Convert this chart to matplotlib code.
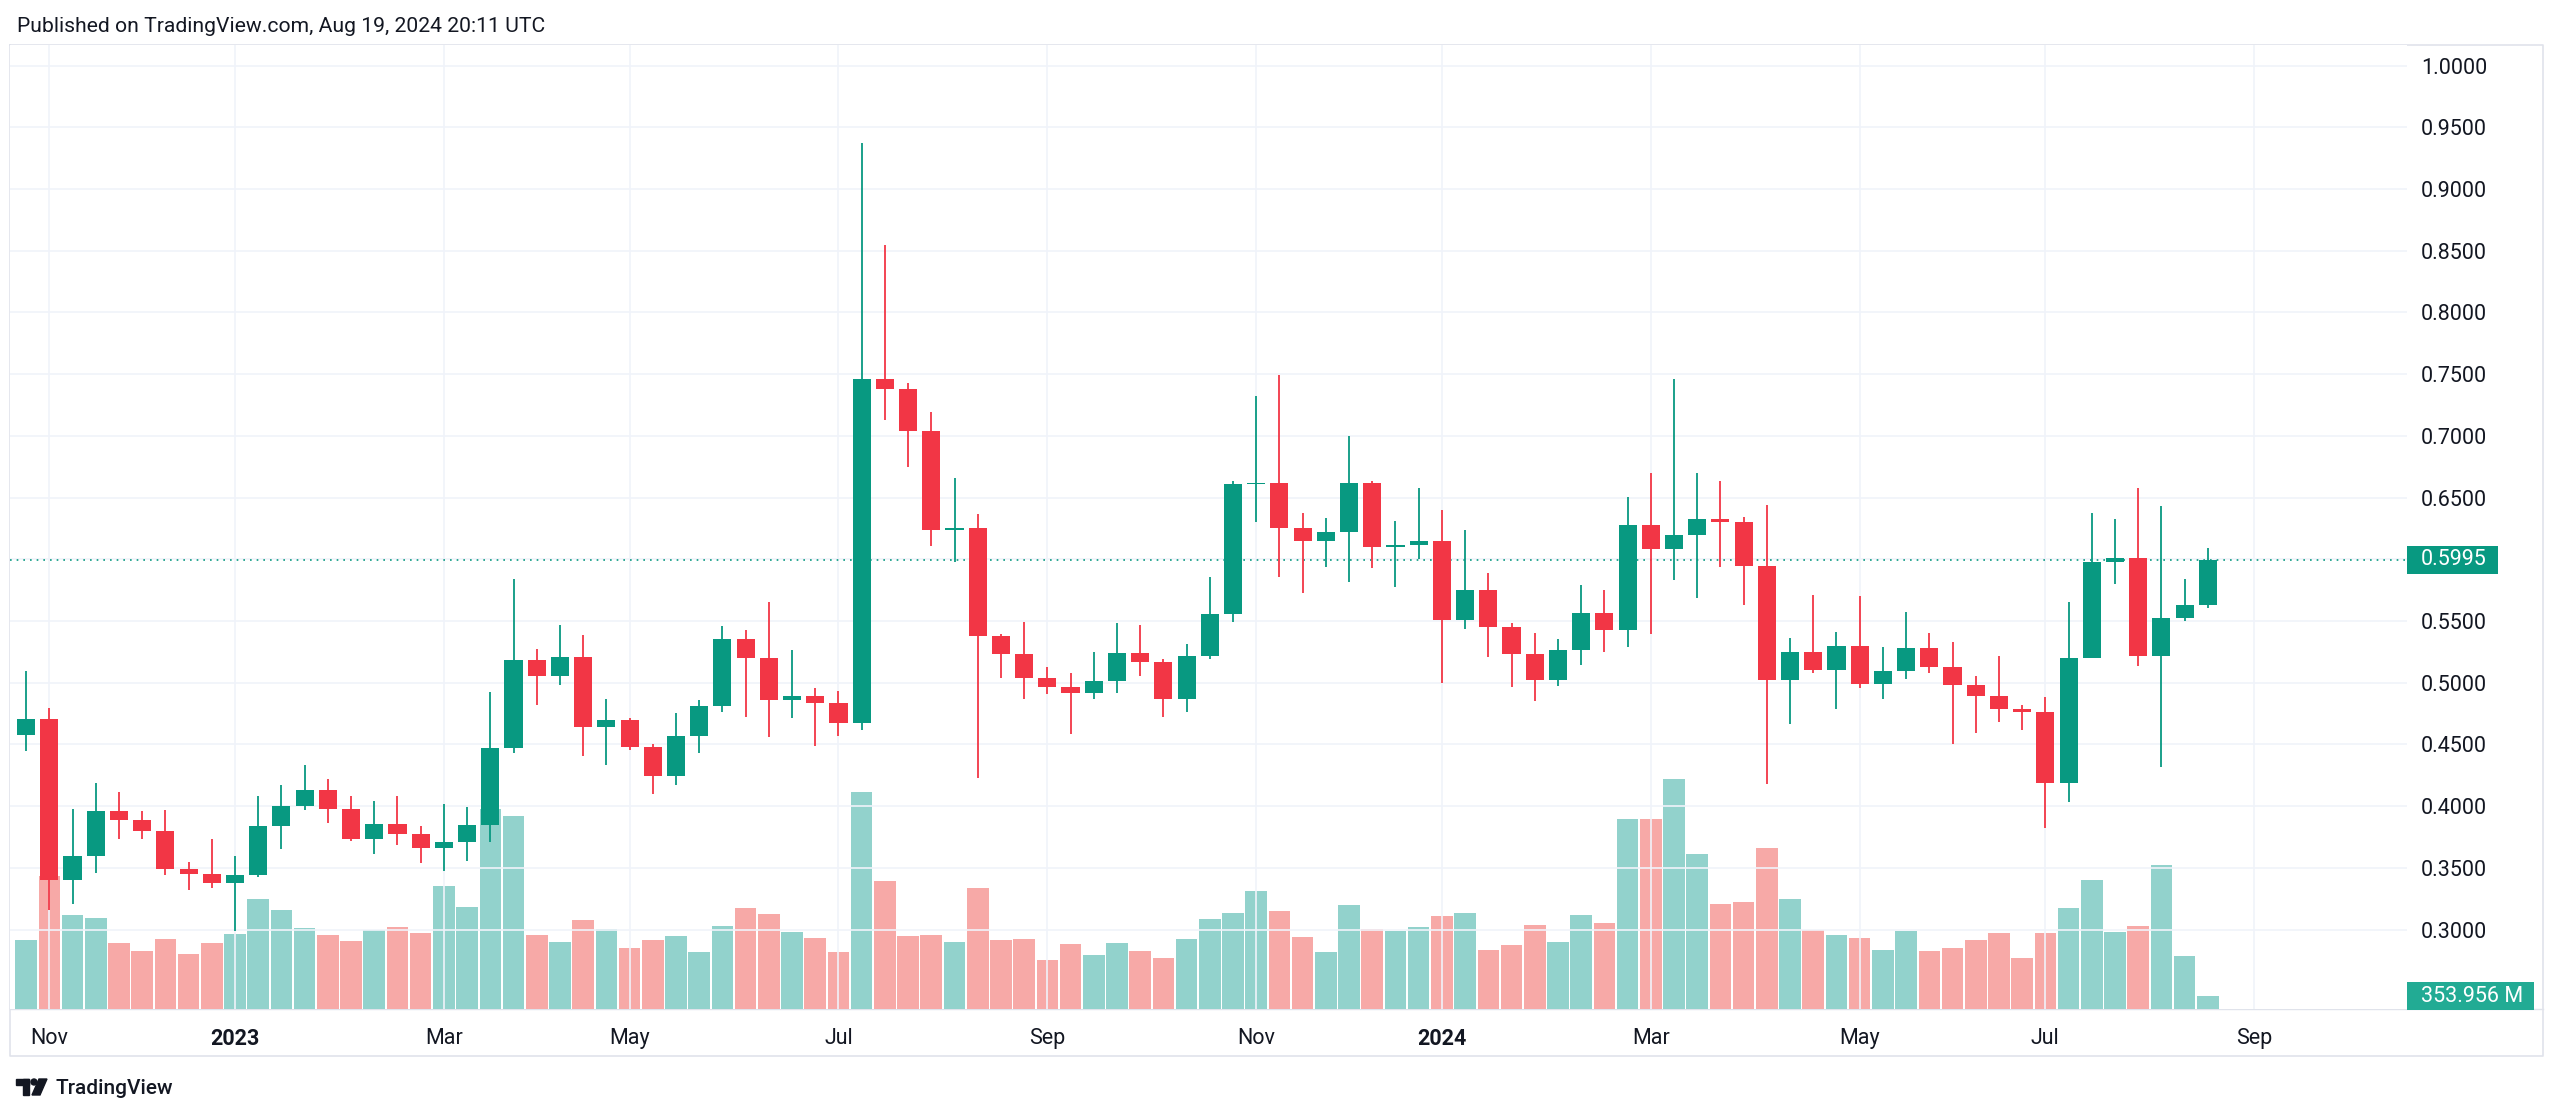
import numpy as np
import pandas as pd
import matplotlib
matplotlib.use('Agg')
import matplotlib.pyplot as plt
from matplotlib.patches import Rectangle, Polygon, Circle
from matplotlib.transforms import blended_transform_factory

plt.rcParams['font.family'] = ['Roboto', 'DejaVu Sans']

# XRP/USDT weekly candles on Binance, week of 2022-10-31 .. 2024-08-19
opens = [0.4573, 0.4703, 0.3405, 0.3600, 0.3957, 0.3889, 0.3797, 0.3492, 0.3451, 0.3378,
         0.3443, 0.3843, 0.4000, 0.4130, 0.3978, 0.3735, 0.3857, 0.3776, 0.3662, 0.3711,
         0.3851, 0.4473, 0.5181, 0.5054, 0.5205, 0.4640, 0.4698, 0.4481, 0.4244, 0.4570,
         0.4815, 0.5352, 0.5199, 0.4857, 0.4893, 0.4837, 0.4676, 0.7460, 0.7376, 0.7042,
         0.6237, 0.6250, 0.5382, 0.5231, 0.5036, 0.4962, 0.4919, 0.5016, 0.5237, 0.5167,
         0.4866, 0.5220, 0.5554, 0.6608, 0.6620, 0.6257, 0.6151, 0.6219, 0.6616, 0.6097,
         0.6116, 0.6151, 0.5505, 0.5753, 0.5452, 0.5231, 0.5022, 0.5261, 0.5568, 0.5424,
         0.6274, 0.6084, 0.6198, 0.6329, 0.6302, 0.5948, 0.5024, 0.5247, 0.5101, 0.5296,
         0.4989, 0.5098, 0.5283, 0.5125, 0.4978, 0.4889, 0.4788, 0.4760, 0.4184, 0.5200,
         0.5978, 0.6011, 0.5219, 0.5524, 0.5631]
highs = [0.5095, 0.4797, 0.3973, 0.4189, 0.4116, 0.3957, 0.3965, 0.3546, 0.3730, 0.3600,
         0.4084, 0.4168, 0.4330, 0.4222, 0.4084, 0.4040, 0.4084, 0.3843, 0.4016, 0.3995,
         0.4927, 0.5840, 0.5270, 0.5464, 0.5389, 0.4865, 0.4718, 0.4503, 0.4754, 0.4860,
         0.5458, 0.5428, 0.5653, 0.5263, 0.4957, 0.4929, 0.9376, 0.8543, 0.7426, 0.7197,
         0.6655, 0.6367, 0.5394, 0.5494, 0.5124, 0.5075, 0.5250, 0.5487, 0.5470, 0.5188,
         0.5317, 0.5859, 0.6630, 0.7324, 0.7495, 0.6373, 0.6338, 0.7000, 0.6630, 0.6311,
         0.6576, 0.6400, 0.6238, 0.5886, 0.5484, 0.5400, 0.5356, 0.5791, 0.5750, 0.6505,
         0.6696, 0.7457, 0.6696, 0.6636, 0.6342, 0.6438, 0.5364, 0.5712, 0.5413, 0.5704,
         0.5288, 0.5573, 0.5405, 0.5329, 0.5057, 0.5215, 0.4821, 0.4881, 0.5654, 0.6376,
         0.6327, 0.6578, 0.6430, 0.5841, 0.6091]
lows = [0.4446, 0.3162, 0.3208, 0.3459, 0.3730, 0.3730, 0.3443, 0.3319, 0.3335, 0.2992,
        0.3427, 0.3654, 0.3965, 0.3865, 0.3716, 0.3616, 0.3689, 0.3540, 0.3473, 0.3554,
        0.3711, 0.4432, 0.4816, 0.4982, 0.4403, 0.4334, 0.4453, 0.4100, 0.4175, 0.4428,
        0.4762, 0.4720, 0.4559, 0.4712, 0.4487, 0.4570, 0.4615, 0.7125, 0.6745, 0.6110,
        0.5974, 0.4225, 0.5036, 0.4868, 0.4906, 0.4586, 0.4868, 0.4914, 0.5054, 0.4726,
        0.4766, 0.5196, 0.5489, 0.6300, 0.5859, 0.5730, 0.5940, 0.5819, 0.5927, 0.5778,
        0.6000, 0.5000, 0.5438, 0.5210, 0.4962, 0.4853, 0.4970, 0.5141, 0.5250, 0.5291,
        0.5391, 0.5834, 0.5685, 0.5938, 0.5630, 0.4182, 0.4666, 0.5079, 0.4785, 0.4957,
        0.4867, 0.5030, 0.5079, 0.4503, 0.4595, 0.4685, 0.4617, 0.3822, 0.4030, 0.5200,
        0.5800, 0.5132, 0.4314, 0.5503, 0.5608]
closes = [0.4703, 0.3405, 0.3600, 0.3957, 0.3889, 0.3797, 0.3492, 0.3451, 0.3378, 0.3443,
          0.3843, 0.4000, 0.4130, 0.3978, 0.3735, 0.3857, 0.3776, 0.3662, 0.3711, 0.3851,
          0.4473, 0.5181, 0.5054, 0.5205, 0.4640, 0.4698, 0.4481, 0.4244, 0.4570, 0.4815,
          0.5352, 0.5199, 0.4857, 0.4893, 0.4837, 0.4676, 0.7460, 0.7376, 0.7042, 0.6237,
          0.6250, 0.5382, 0.5231, 0.5036, 0.4962, 0.4919, 0.5016, 0.5237, 0.5167, 0.4866,
          0.5220, 0.5554, 0.6608, 0.6620, 0.6257, 0.6151, 0.6219, 0.6616, 0.6097, 0.6116,
          0.6151, 0.5505, 0.5753, 0.5452, 0.5231, 0.5022, 0.5261, 0.5568, 0.5424, 0.6274,
          0.6084, 0.6198, 0.6329, 0.6302, 0.5948, 0.5024, 0.5247, 0.5101, 0.5296, 0.4989,
          0.5098, 0.5283, 0.5125, 0.4978, 0.4889, 0.4788, 0.4760, 0.4184, 0.5200, 0.5978,
          0.6011, 0.5219, 0.5524, 0.5631, 0.5995]
# weekly volume, millions of XRP
volumes = [1920, 3700, 2610, 2540, 1830, 1610, 1950, 1530, 1830, 2080,
           3080, 2760, 2270, 2060, 1900, 2200, 2290, 2110, 3420, 2840,
           5580, 5370, 2050, 1880, 2470, 2240, 1700, 1910, 2040, 1600,
           2310, 2810, 2640, 2140, 1980, 1580, 6060, 3570, 2040, 2070,
           1880, 3360, 1930, 1950, 1370, 1810, 1510, 1850, 1620, 1410,
           1940, 2510, 2670, 3280, 2740, 2000, 1590, 2900, 2240, 2170,
           2280, 2590, 2670, 1650, 1780, 2330, 1880, 2610, 2400, 5310,
           5300, 6410, 4330, 2930, 2970, 4500, 3060, 2200, 2050, 1980,
           1640, 2180, 1620, 1710, 1910, 2120, 1420, 2120, 2810, 3590,
           2140, 2320, 4010, 1470, 353.956]

tick_months = ['2022-11', '2023-01', '2023-03', '2023-05', '2023-07', '2023-09',
               '2023-11', '2024-01', '2024-03', '2024-05', '2024-07', '2024-09']
tick_labels = ['Nov', '2023', 'Mar', 'May', 'Jul', 'Sep',
               'Nov', '2024', 'Mar', 'May', 'Jul', 'Sep']
price_ticks = np.round(np.arange(0.30, 1.0001, 0.05), 2)

UP = '#089981'
DOWN = '#F23645'
VOL_UP = '#92d2cc'
VOL_DOWN = '#f7a9a7'
TEXT = '#131722'
GRID = '#f0f3fa'
BORDER = '#e0e3eb'

W, H = 2560, 1116
fig = plt.figure(figsize=(W / 100, H / 100), dpi=100)
fig.patch.set_facecolor('white')

# plot area in pixels
left, right, top, bottom = 10, 2407, 45, 1009

# overlay axes in pixel coordinates for frame and header texts
ov = fig.add_axes([0, 0, 1, 1])
ov.set_xlim(0, W)
ov.set_ylim(H, 0)
ov.axis('off')

rect = [left / W, 1 - bottom / H, (right - left) / W, (bottom - top) / H]
axv = fig.add_axes(rect)
ax = fig.add_axes(rect)
ax.patch.set_visible(False)

n = len(closes)
x = np.arange(n)
all_weeks = pd.date_range('2022-10-31', periods=n + 8, freq='W-MON')
week_months = all_weeks.strftime('%Y-%m')
tick_idx = [int(np.argmax(week_months == m)) for m in tick_months]

o = np.array(opens)
c = np.array(closes)
up = c >= o

# volume pane
axv.bar(x, volumes, width=0.93, color=np.where(up, VOL_UP, VOL_DOWN), linewidth=0)
axv.set_ylim(0, max(volumes) / 0.2385)

# grid
for p in price_ticks:
    ax.axhline(p, color=GRID, lw=1.2, zorder=0)
for t in tick_idx:
    ax.axvline(t, color=GRID, lw=1.2, zorder=0)

# candles
col = np.where(up, UP, DOWN)
ax.vlines(x, lows, highs, colors=col, lw=1.3, zorder=3)
body_lo = np.minimum(o, c)
body_h = np.maximum(np.abs(c - o), 0.0013)
ax.bar(x, body_h, bottom=body_lo, width=0.78, color=col, linewidth=0, zorder=4)

# last price line
ax.axhline(closes[-1], color=UP, lw=1.2, ls=(0, (1, 3)), zorder=2)

spacing = 23.21
x0 = 26.1
ax.set_xlim((left - x0) / spacing, (right - x0) / spacing)
ax.set_ylim(1 - (bottom - 65.5) / 1234.4, 1 - (top - 65.5) / 1234.4)
axv.set_xlim(ax.get_xlim())

for a in (ax, axv):
    for s in a.spines.values():
        s.set_visible(False)
axv.set_xticks([])
axv.set_yticks([])

ax.yaxis.tick_right()
ax.set_yticks(price_ticks)
ax.set_yticklabels(['%.4f' % p for p in price_ticks])
ax.tick_params(axis='y', length=0, pad=10, labelsize=15.5, labelcolor=TEXT)
ax.set_xticks(tick_idx)
ax.set_xticklabels(tick_labels)
ax.tick_params(axis='x', length=0, pad=14, labelsize=15.5, labelcolor=TEXT)
for lab in ax.get_xticklabels():
    if lab.get_text().isdigit():
        lab.set_fontweight('bold')

# current price tag
tr = blended_transform_factory(ax.transAxes, ax.transData)
ax_w = right - left
ppu = 1234.4  # pixels per price unit
ax.add_patch(Rectangle((1.0, closes[-1] - 14 / ppu), 91 / ax_w, 28 / ppu, transform=tr,
                       facecolor=UP, edgecolor='none', clip_on=False, zorder=10))
ax.text(1 + 14 / ax_w, closes[-1], '%.4f' % closes[-1], transform=tr, ha='left', va='center',
        color='white', fontsize=15.5, clip_on=False, zorder=11)

# volume tag
trv = blended_transform_factory(axv.transAxes, axv.transData)
vpp = axv.get_ylim()[1] / (bottom - top)  # volume units per pixel
ax.add_patch(Rectangle((1.0, volumes[-1] - 14 * vpp), 127 / ax_w, 28 * vpp, transform=trv,
                       facecolor='#22ab94', edgecolor='none', clip_on=False, zorder=10))
ax.text(1 + 14 / ax_w, volumes[-1], '%.3f M' % volumes[-1], transform=trv, ha='left',
        va='center', color='white', fontsize=15.5, clip_on=False, zorder=11)

# frame
ov.plot([left, 2543, 2543, left, left], [top, top, 1056, 1056, top], color=BORDER, lw=1.2)
ov.plot([left, 2543], [bottom, bottom], color=BORDER, lw=1.0)

# header and legend
ov.text(17, 26, 'Published on TradingView.com, Aug 19, 2024 20:11 UTC', va='center',
        fontsize=15.2, color=TEXT)
ov.text(32, 73, 'XRP / TetherUS, 1W, Binance', va='center', fontsize=14.5, color=TEXT)
chg = closes[-1] - opens[-1]
parts = [('O', 317, TEXT), ('%.4f' % opens[-1], 332, UP),
         ('H', 406, TEXT), ('%.4f' % highs[-1], 422, UP),
         ('L', 499, TEXT), ('%.4f' % lows[-1], 511, UP),
         ('C', 591, TEXT), ('%.4f' % closes[-1], 607, UP),
         ('%+.4f (%+.2f%%)' % (chg, chg / opens[-1] * 100), 686, UP)]
for txt, px, colr in parts:
    ov.text(px, 73, txt, va='center', fontsize=14.5, color=colr)
ov.text(32, 102, 'Vol · XRP', va='center', fontsize=14.5, color=TEXT)
ov.text(145, 102, '%.3f M' % volumes[-1], va='center', fontsize=14.5, color='#22ab94')

# TradingView logo
ov.add_patch(Rectangle((16, 1079), 13, 6, color=TEXT))
ov.add_patch(Rectangle((23, 1079), 6, 16, color=TEXT))
ov.add_patch(Circle((34, 1082), 3, color=TEXT))
ov.add_patch(Polygon([(39, 1079), (47, 1079), (40, 1095), (32, 1095)], color=TEXT))
ov.text(55, 1088, 'TradingView', va='center', fontsize=15, color=TEXT, fontweight='medium')

fig.savefig('out.png', dpi=100, facecolor='white')
